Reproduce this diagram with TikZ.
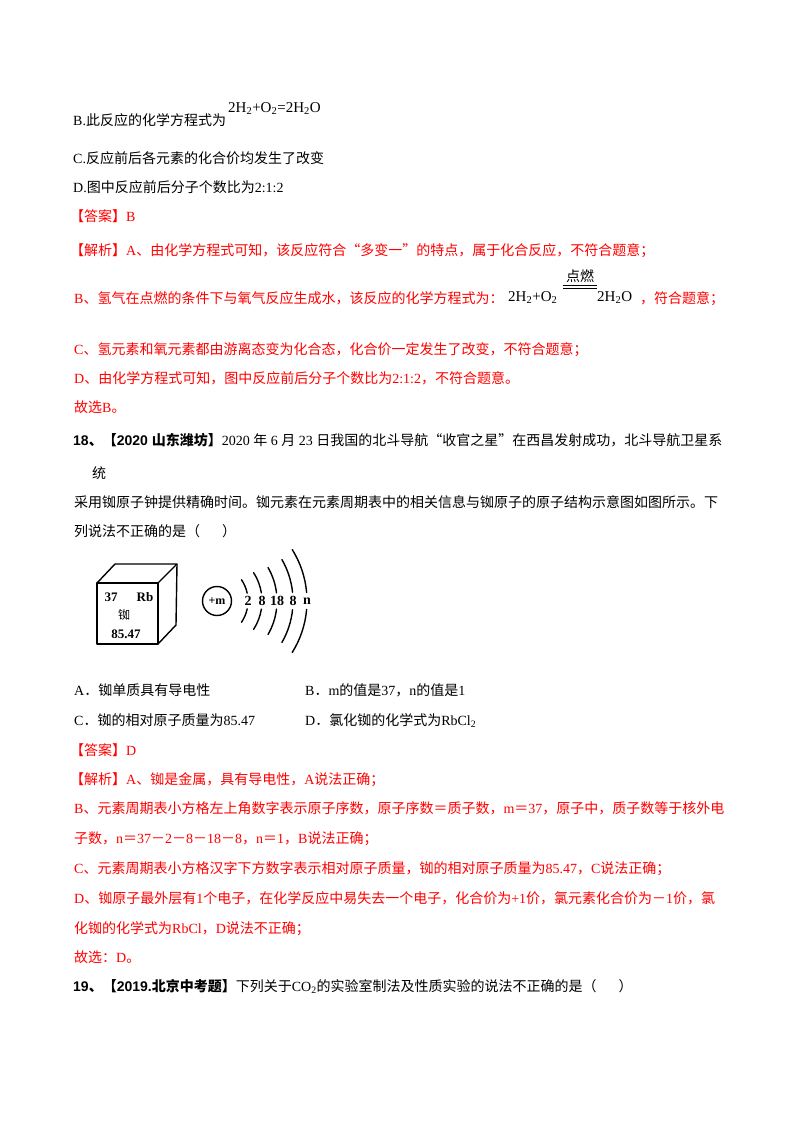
\documentclass[tikz,border=0pt]{standalone}
\usepackage{fontspec}
\usepackage{tikz}
\usetikzlibrary{calc}
\setmainfont{Liberation Serif}
\setsansfont{Liberation Sans}
\newfontfamily\cjk{Noto Sans CJK SC}
% han characters switch to the cjk family by themselves
\def\latfam{\rmfamily}
\XeTeXinterchartokenstate=1
\newXeTeXintercharclass\hanclass
\newcount\hc
\hc="2E80
\loop\XeTeXcharclass\hc=\hanclass \ifnum\hc<"9FFF \advance\hc by 1 \repeat
\hc="FF00
\loop\XeTeXcharclass\hc=\hanclass \ifnum\hc<"FFEF \advance\hc by 1 \repeat
\XeTeXcharclass"201C=\hanclass
\XeTeXcharclass"201D=\hanclass
\XeTeXinterchartoks 0 \hanclass = {\cjk}
\XeTeXinterchartoks 4095 \hanclass = {\cjk}
\XeTeXinterchartoks \hanclass 0 = {\latfam}
\XeTeXinterchartoks \hanclass 4095 = {\latfam}
\tikzset{
  txt/.style={anchor=base west,inner sep=0pt,font=\fontsize{14}{16}\selectfont},
  rtxt/.style={txt,text=red},
  chem/.style={txt,font=\fontsize{15}{16}\selectfont},
  cube/.style={line width=1.4pt,line join=round},
  celltxt/.style={inner sep=0pt,font=\bfseries\fontsize{13}{13}\selectfont},
  shell/.style={line width=1.4pt,line cap=round},
}
\def\btxt{\node[txt]}
\def\rtxt{\node[rtxt]}
\def\qhead#1{{\def\latfam{\sffamily}\sffamily\bfseries #1}}

\begin{document}
\begin{tikzpicture}[x=1pt,y=-1pt]
\useasboundingbox (0,0) rectangle (800,1132);
\fill[white] (0,0) rectangle (800,1132);
% question 17, tail
\btxt (l1) at (73,125) {B.此反应的化学方程式为};
\node[chem] (f1) at (228,112) {2H\textsubscript{2}+O\textsubscript{2}=2H\textsubscript{2}O};
\btxt (l2) at (73,163) {C.反应前后各元素的化合价均发生了改变};
\btxt (l3) at (73,192) {D.图中反应前后分子个数比为2:1:2};
\rtxt (l4) at (70,221) {【答案】B};
\rtxt (l5) at (70,255) {【解析】A、由化学方程式可知，该反应符合“多变一”的特点，属于化合反应，不符合题意；};
\rtxt (l6) at (74,303) {B、氢气在点燃的条件下与氧气反应生成水，该反应的化学方程式为：};
\node[chem] (lhs) at (508,301) {2H\textsubscript{2}+O\textsubscript{2}};
\node[chem] (rhs) at (597,301) {2H\textsubscript{2}O};
\coordinate (ea) at (563,285.5);
\coordinate (eb) at (597,285.5);
\draw[line width=0.9pt] (ea) -- (eb) ([yshift=-3pt]ea) -- ([yshift=-3pt]eb);
\node[txt,anchor=south] (cond) at (580,283) {点燃};
\rtxt (l6b) at (640,303) {，符合题意；};
\rtxt (l7) at (74,354) {C、氢元素和氧元素都由游离态变为化合态，化合价一定发生了改变，不符合题意；};
\rtxt (l8) at (74,383) {D、由化学方程式可知，图中反应前后分子个数比为2:1:2，不符合题意。};
\rtxt (l9) at (74,412) {故选B。};
% question 18
\btxt (q1) at (73,445) {\qhead{18、【2020 山东潍坊】}2020 年 6 月 23 日我国的北斗导航“收官之星”在西昌发射成功，北斗导航卫星系};
\btxt (q2) at (92,478) {统};
\btxt (q3) at (74,507) {采用铷原子钟提供精确时间。铷元素在元素周期表中的相关信息与铷原子的原子结构示意图如图所示。下};
\btxt (q4) at (74,536) {列说法不正确的是（\hspace{22pt}）};
% element cell
\draw[cube] (97,583) rectangle (158,644);
\draw[cube] (97,583) -- (115,564) -- (177,564) -- (158,583);
\draw[cube] (177,564) -- (176,625) -- (158,644);
\node[celltxt] (zn) at (111,597) {37};
\node[celltxt] (sym) at (145,597) {Rb};
\node[celltxt,font=\fontsize{12}{12}\selectfont] (nm) at (124,615) {铷};
\node[celltxt] (ms) at (126,634) {85.47};
% atom
\node[draw,circle,line width=1.4pt,minimum size=29pt,inner sep=0pt,font=\bfseries\fontsize{12}{12}\selectfont] (nuc) at (217,601) {+m};
\coordinate (ctr) at (210,601);
\foreach \r/\e/\g/\n [count=\i] in {38/34/12/2, 52/33/9/8, 67/30/7/18, 83/30/6/8, 97/32/5/n} {
  \node[celltxt,font=\bfseries\fontsize{14}{14}\selectfont] (s\i) at ($(ctr)+(\r,0)$) {\n};
  \draw[shell] ($(ctr)+(\g:\r)$) arc (\g:\e:\r);
  \draw[shell] ($(ctr)+(-\g:\r)$) arc (-\g:-\e:\r);
}
\btxt (oA) at (74,695) {A．铷单质具有导电性};
\btxt (oB) at (305,695) {B．m的值是37，n的值是1};
\btxt (oC) at (74,725) {C．铷的相对原子质量为85.47};
\btxt (oD) at (305,725) {D．氯化铷的化学式为RbCl\textsubscript{2}};
\rtxt (a1) at (70,755) {【答案】D};
\rtxt (a2) at (70,784) {【解析】A、铷是金属，具有导电性，A说法正确；};
\rtxt (a3) at (74,813) {B、元素周期表小方格左上角数字表示原子序数，原子序数＝质子数，m＝37，原子中，质子数等于核外电};
\rtxt (a4) at (74,843) {子数，n＝37－2－8－18－8，n＝1，B说法正确；};
\rtxt (a5) at (74,873) {C、元素周期表小方格汉字下方数字表示相对原子质量，铷的相对原子质量为85.47，C说法正确；};
\rtxt (a6) at (74,903) {D、铷原子最外层有1个电子，在化学反应中易失去一个电子，化合价为+1价，氯元素化合价为－1价，氯};
\rtxt (a7) at (74,933) {化铷的化学式为RbCl，D说法不正确；};
\rtxt (a8) at (74,962) {故选：D。};
% question 19
\btxt (b1) at (73,991) {\qhead{19、【2019.北京中考题】}下列关于CO\textsubscript{2}的实验室制法及性质实验的说法不正确的是（\hspace{22pt}）};
\end{tikzpicture}
\end{document}
